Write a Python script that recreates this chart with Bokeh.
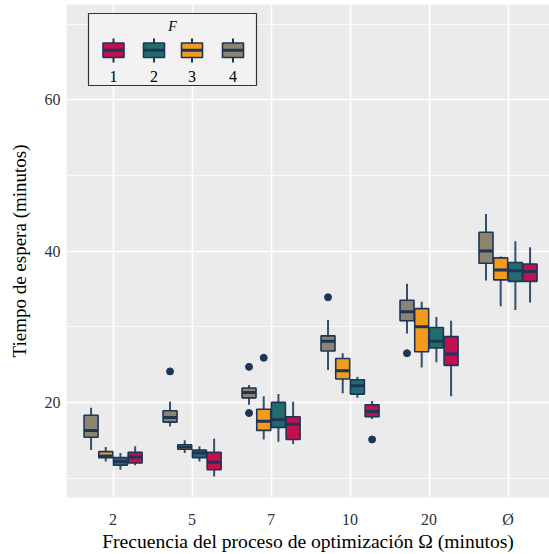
from bokeh.plotting import figure
from bokeh.models import Range1d, FixedTicker, ColumnDataSource
from bokeh.core.properties import value
from bokeh.embed import file_html
from bokeh.resources import INLINE

# Optimisation frequency groups (x axis)
CATEGORIES = ["2", "5", "7", "10", "20", "Ø"]

# Five-number summaries per F level: whisker low, Q1, median, Q3, whisker high
F1_LOW = [11.7, 10.2, 14.5, 17.8, 20.8, 33.2]
F1_Q1 = [12.0, 11.1, 15.1, 18.1, 24.9, 36.0]
F1_MED = [12.8, 12.1, 17.1, 18.8, 26.4, 37.3]
F1_Q3 = [13.4, 13.4, 18.1, 19.7, 28.7, 38.3]
F1_HIGH = [14.2, 15.2, 20.1, 20.2, 30.8, 40.5]

F2_LOW = [11.1, 12.2, 14.8, 20.6, 25.3, 32.2]
F2_Q1 = [11.7, 12.7, 16.7, 21.1, 27.2, 36.0]
F2_MED = [12.2, 13.3, 17.7, 22.2, 28.1, 37.4]
F2_Q3 = [12.7, 13.7, 20.0, 23.0, 29.9, 38.5]
F2_HIGH = [13.3, 14.2, 21.1, 23.4, 31.3, 41.3]

F3_LOW = [12.2, 13.3, 15.1, 21.2, 24.6, 32.7]
F3_Q1 = [12.7, 13.8, 16.3, 23.1, 26.7, 36.2]
F3_MED = [12.9, 14.1, 17.5, 24.2, 30.0, 37.5]
F3_Q3 = [13.5, 14.4, 19.1, 25.8, 32.4, 39.1]
F3_HIGH = [14.1, 15.0, 20.8, 26.5, 33.3, 39.3]

F4_LOW = [13.7, 16.8, 19.7, 24.3, 29.1, 36.1]
F4_Q1 = [15.4, 17.4, 20.6, 26.8, 30.8, 38.4]
F4_MED = [16.3, 18.0, 21.3, 28.1, 32.0, 40.0]
F4_Q3 = [18.3, 18.9, 21.9, 28.8, 33.5, 42.5]
F4_HIGH = [19.3, 20.1, 22.3, 30.9, 35.7, 44.9]

# Outliers: (group index, value)
F1_OUT_CAT = [3]
F1_OUT_VAL = [15.1]
F3_OUT_CAT = [2]
F3_OUT_VAL = [25.9]
F4_OUT_CAT = [1, 2, 2, 3, 4]
F4_OUT_VAL = [24.1, 24.7, 18.6, 33.9, 26.5]

F_LABELS = ["1", "2", "3", "4"]
F_COLORS = ["#C2104E", "#236B6C", "#F39B1E", "#8B8471"]

OUTLINE = "#1D3557"
WHISKER = "#34506F"
FONT = "Liberation Serif"

# Frame geometry (pixels) and data ranges
W, H = 549, 554
FRAME_L, FRAME_R, FRAME_T, FRAME_B = 66, 549, 4, 497
X0, X1 = -0.59, 5.525
Y0, Y1 = 7.43, 72.6


def dx(px):
    return X0 + (px - FRAME_L) / (FRAME_R - FRAME_L) * (X1 - X0)


def dy(py):
    return Y1 - (py - FRAME_T) / (FRAME_B - FRAME_T) * (Y1 - Y0)


p = figure(width=W, height=H, x_range=Range1d(X0, X1), y_range=Range1d(Y0, Y1),
           output_backend="svg", toolbar_location=None,
           min_border_left=FRAME_L, min_border_right=W - FRAME_R,
           min_border_top=FRAME_T, min_border_bottom=H - FRAME_B,
           background_fill_color="#EBEBEB", border_fill_color="white",
           outline_line_color=None)

# Axes
p.xaxis.ticker = FixedTicker(ticks=list(range(len(CATEGORIES))))
p.xaxis.major_label_overrides = {i: c for i, c in enumerate(CATEGORIES)}
p.yaxis.ticker = FixedTicker(ticks=[20, 40, 60], minor_ticks=[10, 30, 50, 70])
p.xgrid.ticker = FixedTicker(ticks=list(range(len(CATEGORIES))))
for ax in (p.xaxis, p.yaxis):
    ax.axis_line_color = None
    ax.major_tick_line_color = None
    ax.minor_tick_line_color = None
    ax.major_tick_out = 0
    ax.major_tick_in = 0
    ax.minor_tick_out = 0
    ax.minor_tick_in = 0
    ax.major_label_text_font = FONT
    ax.major_label_text_font_size = "16px"
    ax.major_label_text_color = "#333333"
    ax.axis_label_text_font = FONT
    ax.axis_label_text_font_size = "19px"
    ax.axis_label_text_font_style = "normal"
    ax.axis_label_text_color = "black"
p.xaxis.axis_label_text_font_size = "19.6px"
p.xaxis.axis_label = "Frecuencia del proceso de optimización Ω (minutos)"
p.yaxis.axis_label = "Tiempo de espera (minutos)"
p.xaxis.major_label_standoff = 13
p.xaxis.axis_label_standoff = 0
p.yaxis.major_label_standoff = 6
p.yaxis.axis_label_standoff = 12

p.xgrid.grid_line_color = "white"
p.xgrid.grid_line_width = 1.6
p.ygrid.grid_line_color = "white"
p.ygrid.grid_line_width = 1.6
p.ygrid.minor_grid_line_color = "white"
p.ygrid.minor_grid_line_width = 0.8

# Dodged boxplots: order within a group is F=4, 3, 2, 1
BOX_W = 0.177
OFFSETS = {3: -0.279, 2: -0.093, 1: 0.093, 0: 0.279}
series = [
    (F1_LOW, F1_Q1, F1_MED, F1_Q3, F1_HIGH),
    (F2_LOW, F2_Q1, F2_MED, F2_Q3, F2_HIGH),
    (F3_LOW, F3_Q1, F3_MED, F3_Q3, F3_HIGH),
    (F4_LOW, F4_Q1, F4_MED, F4_Q3, F4_HIGH),
]
for k, (lo, q1, med, q3, hi) in enumerate(series):
    xs = [i + OFFSETS[k] for i in range(len(CATEGORIES))]
    src = ColumnDataSource(dict(x=xs, lo=lo, q1=q1, med=med, q3=q3, hi=hi,
                                xl=[x - BOX_W / 2 for x in xs],
                                xr=[x + BOX_W / 2 for x in xs]))
    p.segment(x0="x", x1="x", y0="q3", y1="hi", source=src,
              line_color=WHISKER, line_width=2)
    p.segment(x0="x", x1="x", y0="lo", y1="q1", source=src,
              line_color=WHISKER, line_width=2)
    p.vbar(x="x", width=BOX_W, bottom="q1", top="q3", source=src,
           fill_color=F_COLORS[k], line_color=OUTLINE, line_width=1.6)
    p.segment(x0="xl", x1="xr", y0="med", y1="med", source=src,
              line_color=OUTLINE, line_width=3)

for k, cats, vals in [(0, F1_OUT_CAT, F1_OUT_VAL), (2, F3_OUT_CAT, F3_OUT_VAL),
                      (3, F4_OUT_CAT, F4_OUT_VAL)]:
    p.scatter(x=[c + OFFSETS[k] for c in cats], y=vals, size=7,
              fill_color=OUTLINE, line_color=OUTLINE)

# Legend panel with miniature boxplot keys
p.quad(left=[dx(88)], right=[dx(256)], top=[dy(13)], bottom=[dy(85)],
       fill_color="#F2F2F2", line_color="#333333", line_width=1.2)
p.text(x=[dx(172)], y=[dy(26)], text=["F"], text_font=value(FONT),
       text_font_style="italic", text_font_size="14px",
       text_align="center", text_baseline="middle", text_color="black")
key_px = [113, 153.5, 191.5, 232.5]
key_x = [dx(k) for k in key_px]
key_half = 10.5
p.segment(x0=key_x, x1=key_x, y0=[dy(38)] * 4, y1=[dy(62)] * 4,
          line_color=OUTLINE, line_width=2)
p.quad(left=[dx(k - key_half) for k in key_px], right=[dx(k + key_half) for k in key_px],
       top=[dy(42.5)] * 4, bottom=[dy(57)] * 4,
       fill_color=F_COLORS, line_color=OUTLINE, line_width=1.6)
p.segment(x0=[dx(k - key_half) for k in key_px], x1=[dx(k + key_half) for k in key_px],
          y0=[dy(49.8)] * 4, y1=[dy(49.8)] * 4, line_color=OUTLINE, line_width=3)
p.text(x=key_x, y=[dy(76)] * 4, text=F_LABELS, text_font=value(FONT),
       text_font_size="16px", text_align="center", text_baseline="middle",
       text_color="black")

open("out.html", "w").write(file_html(p, INLINE))
